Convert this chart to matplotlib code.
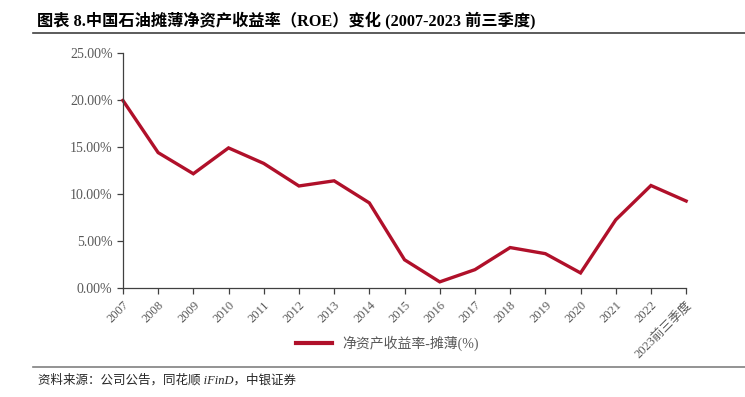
import numpy as np
import matplotlib.pyplot as plt
from matplotlib.lines import Line2D

# 数据：中国石油摊薄ROE (%)
years = ['2007', '2008', '2009', '2010', '2011', '2012', '2013', '2014', '2015',
         '2016', '2017', '2018', '2019', '2020', '2021', '2022', '2023前三季度']
roe = [19.95, 14.4, 12.15, 14.9, 13.25, 10.85, 11.4, 9.05, 3.0,
       0.65, 1.95, 4.3, 3.65, 1.6, 7.25, 10.9, 9.25]
yticks = [0, 5, 10, 15, 20, 25]

FONT = ['Liberation Serif', 'Noto Sans CJK SC']
GREY = '#595959'
RED = '#B0102A'

fig = plt.figure(figsize=(7.45, 3.97), dpi=100)
ax = fig.add_axes([0.165, 0.2746, 0.756, 0.592])

x = np.arange(len(years))
ax.plot(x, roe, color=RED, linewidth=2.4, solid_joinstyle='miter', clip_on=False)

ax.set_xlim(0, len(years) - 1)
ax.set_ylim(0, 25)
ax.set_yticks(yticks)
ax.set_yticklabels([f'{v:.2f}%' for v in yticks], fontfamily=FONT, fontsize=10, color=GREY)
ax.set_xticks(x)
ax.set_xticklabels(years, rotation=45, ha='right', va='top', rotation_mode='anchor',
                   fontfamily=FONT, fontsize=9, color=GREY)

for s in ['top', 'right']:
    ax.spines[s].set_visible(False)
for s in ['left', 'bottom']:
    ax.spines[s].set_color('#404040')
    ax.spines[s].set_linewidth(0.9)
ax.tick_params(axis='both', direction='out', length=4, width=0.9, color='#404040')
ax.tick_params(axis='x', pad=4)

# 图例
leg = fig.legend(handles=[Line2D([], [], color=RED, linewidth=3)],
                 labels=['净资产收益率-摊薄(%)'], loc='center',
                 bbox_to_anchor=(0.52, 1 - 343 / 397), frameon=False,
                 handlelength=2.6, handletextpad=0.8,
                 prop={'family': FONT, 'size': 10})
for t in leg.get_texts():
    t.set_color(GREY)

# 标题与分隔线
fig.text(37 / 745, 1 - 20 / 397,
         '图表 8.中国石油摊薄净资产收益率（ROE）变化 (2007-2023 前三季度)',
         fontfamily=FONT, fontsize=11.7, fontweight='bold', va='center', ha='left')
fig.add_artist(Line2D([33 / 745, 1], [1 - 33 / 397] * 2, color='#404040', linewidth=1.2))
fig.add_artist(Line2D([33 / 745, 1], [1 - 367 / 397] * 2, color='#808080', linewidth=1.2))
fig.text(38 / 745, 1 - 380 / 397, '资料来源：公司公告，同花顺 iFinD，中银证券',
         fontfamily=FONT, fontsize=9, style='italic', va='center', ha='left', color='#262626')

fig.savefig('out.png', dpi=100)
